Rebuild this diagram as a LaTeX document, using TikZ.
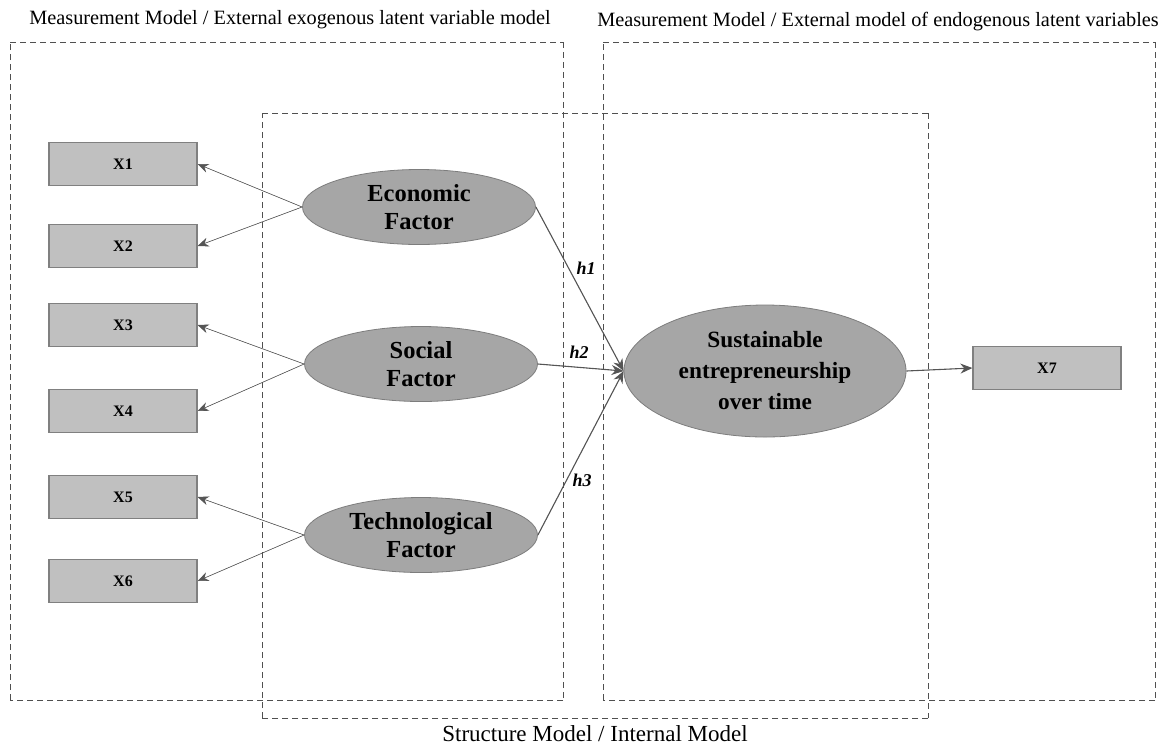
\documentclass[tikz,border=0pt]{standalone}
\usepackage{fontspec}
\setmainfont{Liberation Serif}
\usetikzlibrary{arrows,arrows.meta,positioning,shapes.geometric}
\pgfdeclarelayer{edgelayer}
\pgfdeclarelayer{nodelayer}
\pgfsetlayers{edgelayer,nodelayer,main}
\definecolor{boxgray}{RGB}{192,192,192}
\definecolor{boxline}{RGB}{128,128,128}
\definecolor{latgray}{RGB}{166,166,166}
\definecolor{latline}{RGB}{125,125,125}
\definecolor{arrgray}{RGB}{85,85,85}
\definecolor{dashgray}{RGB}{80,80,80}
\tikzstyle{none}=[inner sep=0pt]
\tikzstyle{indicator}=[rectangle,fill=boxgray,draw=boxline,line width=1.2pt,minimum width=148pt,minimum height=43pt,font=\fontsize{16}{18}\selectfont\bfseries]
\tikzstyle{latent}=[ellipse,fill=latgray,draw=latline,line width=0.8pt,minimum width=233pt,minimum height=75pt,inner sep=0pt,align=center,font=\fontsize{24.5}{28.5}\selectfont\bfseries]
\tikzstyle{outarrow}=[-{Stealth[length=11pt,width=9pt]}, draw=arrgray, fill=arrgray, line width=0.6pt]
\tikzstyle{patharrow}=[-{Stealth[length=12pt,width=10pt]}, draw=arrgray, fill=arrgray, line width=1.1pt]
\tikzstyle{simple}=[-,draw=dashgray,dash pattern=on 6pt off 4pt,line width=0.9pt]
\tikzstyle{caption}=[inner sep=0pt,font=\fontsize{20.3}{22}\selectfont]
\tikzstyle{hyp}=[inner sep=0pt,font=\fontsize{18}{20}\selectfont\bfseries\itshape]

\begin{document}
\begin{tikzpicture}[x=1pt,y=-1pt]
	\useasboundingbox (0,0) rectangle (1164,748);
	\begin{pgfonlayer}{nodelayer}
		\node [style=caption] (capA) at (290,20) {Measurement Model / External exogenous latent variable model};
		\node [style=caption] (capB) at (878,22) {Measurement Model / External model of endogenous latent variables};
		\node [style=caption, font=\fontsize{23}{25}\selectfont] (capC) at (595,734) {Structure Model / Internal Model};
		\node [style=indicator] (X1) at (123,164) {X1};
		\node [style=indicator] (X2) at (123,246) {X2};
		\node [style=indicator] (X3) at (123,325) {X3};
		\node [style=indicator] (X4) at (123,411) {X4};
		\node [style=indicator] (X5) at (123,497) {X5};
		\node [style=indicator] (X6) at (123,581) {X6};
		\node [style=indicator] (X7) at (1047,368) {X7};
		\node [style=latent] (Eco) at (419,207) {Economic\\Factor};
		\node [style=latent] (Soc) at (421,364) {Social\\Factor};
		\node [style=latent] (Tech) at (421,535) {Technological\\Factor};
		\node [style=latent, minimum width=282pt, minimum height=132pt, font=\fontsize{23.3}{31}\selectfont\bfseries] (SE) at (765,371) {Sustainable\\entrepreneurship\\over time};
		\node [style=hyp] (h1) at (586,268) {h1};
		\node [style=hyp] (h2) at (579,352) {h2};
		\node [style=hyp] (h3) at (582,480) {h3};
		\node [style=none] (ATL) at (10,42) {};
		\node [style=none] (ATR) at (563,42) {};
		\node [style=none] (ABR) at (563,700) {};
		\node [style=none] (ABL) at (10,700) {};
		\node [style=none] (BTL) at (603,42) {};
		\node [style=none] (BTR) at (1155,42) {};
		\node [style=none] (BBR) at (1155,700) {};
		\node [style=none] (BBL) at (603,700) {};
		\node [style=none] (MTL) at (262,113) {};
		\node [style=none] (MTR) at (928,113) {};
		\node [style=none] (MBR) at (928,718) {};
		\node [style=none] (MBL) at (262,718) {};
	\end{pgfonlayer}
	\begin{pgfonlayer}{edgelayer}
		\draw [style=outarrow] (Eco.west) to (X1.east);
		\draw [style=outarrow] (Eco.west) to (X2.east);
		\draw [style=outarrow] (Soc.west) to (X3.east);
		\draw [style=outarrow] (Soc.west) to (X4.east);
		\draw [style=outarrow] (Tech.west) to (X5.east);
		\draw [style=outarrow] (Tech.west) to (X6.east);
		\draw [style=patharrow] (Eco.east) to (SE.west);
		\draw [style=patharrow] (Soc.east) to (SE.west);
		\draw [style=patharrow] (Tech.east) to (SE.west);
		\draw [style=patharrow] (SE.east) to (X7.west);
		\draw [style=simple] (ATL.center) to (ATR.center);
		\draw [style=simple] (ATR.center) to (ABR.center);
		\draw [style=simple] (ABR.center) to (ABL.center);
		\draw [style=simple] (ABL.center) to (ATL.center);
		\draw [style=simple] (BTL.center) to (BTR.center);
		\draw [style=simple] (BTR.center) to (BBR.center);
		\draw [style=simple] (BBR.center) to (BBL.center);
		\draw [style=simple] (BBL.center) to (BTL.center);
		\draw [style=simple] (MTL.center) to (MTR.center);
		\draw [style=simple] (MTR.center) to (MBR.center);
		\draw [style=simple] (MBR.center) to (MBL.center);
		\draw [style=simple] (MBL.center) to (MTL.center);
	\end{pgfonlayer}
\end{tikzpicture}
\end{document}
